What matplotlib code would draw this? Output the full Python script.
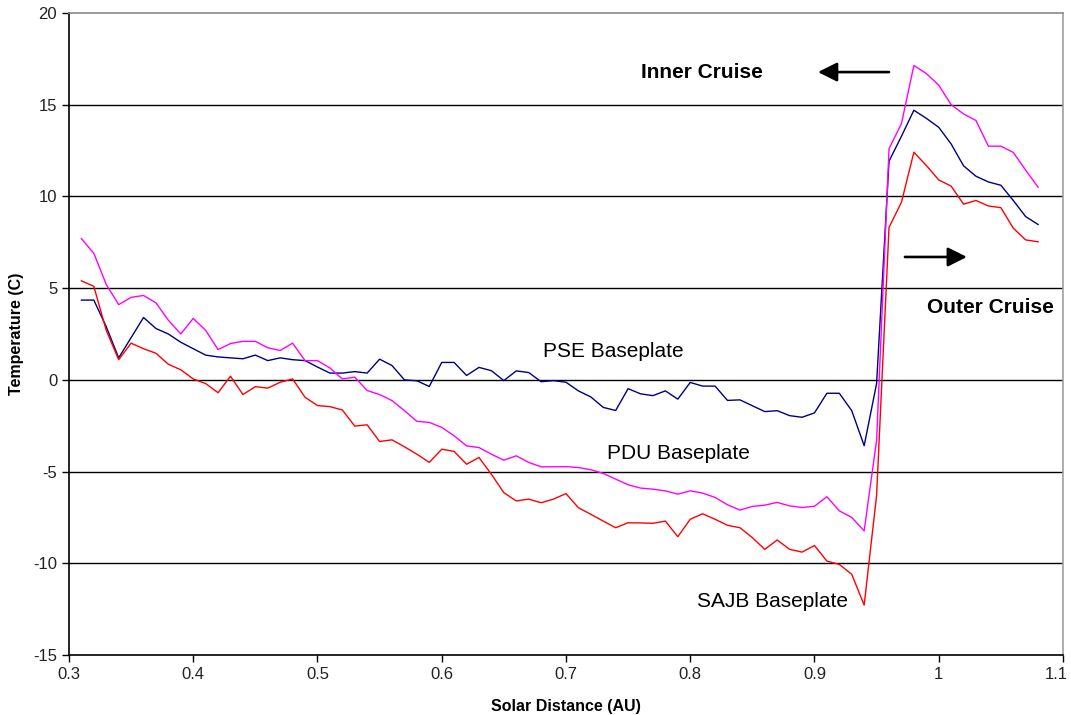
import matplotlib
matplotlib.use("Agg")
import matplotlib.pyplot as plt
from matplotlib.transforms import ScaledTranslation

# solar distance (AU), one reading every 0.01 AU
distance = [0.31, 0.32, 0.33, 0.34, 0.35, 0.36, 0.37, 0.38, 0.39, 0.40,
            0.41, 0.42, 0.43, 0.44, 0.45, 0.46, 0.47, 0.48, 0.49, 0.50,
            0.51, 0.52, 0.53, 0.54, 0.55, 0.56, 0.57, 0.58, 0.59, 0.60,
            0.61, 0.62, 0.63, 0.64, 0.65, 0.66, 0.67, 0.68, 0.69, 0.70,
            0.71, 0.72, 0.73, 0.74, 0.75, 0.76, 0.77, 0.78, 0.79, 0.80,
            0.81, 0.82, 0.83, 0.84, 0.85, 0.86, 0.87, 0.88, 0.89, 0.90,
            0.91, 0.92, 0.93, 0.94, 0.95, 0.96, 0.97, 0.98, 0.99, 1.00,
            1.01, 1.02, 1.03, 1.04, 1.05, 1.06, 1.07, 1.08]

# temperatures (C)
pse = [4.35, 4.35, 2.9, 1.2, 2.3, 3.4, 2.8, 2.5, 2.05, 1.7,
       1.35, 1.25, 1.2, 1.15, 1.35, 1.05, 1.2, 1.1, 1.05, 0.7,
       0.37, 0.37, 0.45, 0.37, 1.13, 0.78, 0.0, -0.05, -0.36, 0.95,
       0.95, 0.24, 0.68, 0.5, -0.04, 0.49, 0.4, -0.1, -0.04, -0.13,
       -0.6, -0.93, -1.5, -1.67, -0.48, -0.76, -0.86, -0.6, -1.05, -0.14,
       -0.34, -0.34, -1.12, -1.09, -1.41, -1.73, -1.68, -1.95, -2.04, -1.8,
       -0.73, -0.73, -1.68, -3.59, -0.2, 11.92, 13.28, 14.7, 14.26, 13.77,
       12.86, 11.67, 11.1, 10.79, 10.61, 9.78, 8.9, 8.47]

pdu = [7.7, 6.9, 5.2, 4.1, 4.5, 4.6, 4.2, 3.25, 2.5, 3.35,
       2.7, 1.65, 1.98, 2.1, 2.1, 1.75, 1.6, 2.0, 1.05, 1.05,
       0.65, 0.05, 0.15, -0.58, -0.8, -1.13, -1.68, -2.26, -2.32, -2.59,
       -3.05, -3.6, -3.69, -4.05, -4.38, -4.14, -4.5, -4.74, -4.74, -4.73,
       -4.78, -4.9, -5.1, -5.41, -5.72, -5.9, -5.96, -6.05, -6.23, -6.05,
       -6.17, -6.41, -6.81, -7.1, -6.9, -6.83, -6.68, -6.87, -6.96, -6.89,
       -6.37, -7.14, -7.5, -8.23, -3.3, 12.6, 13.97, 17.14, 16.7, 16.07,
       15.0, 14.5, 14.14, 12.74, 12.74, 12.4, 11.43, 10.5]

sajb = [5.4, 5.1, 2.7, 1.1, 2.0, 1.7, 1.45, 0.85, 0.55, 0.05,
        -0.2, -0.7, 0.2, -0.8, -0.37, -0.45, -0.13, 0.05, -0.95, -1.4,
        -1.46, -1.64, -2.52, -2.45, -3.36, -3.27, -3.65, -4.05, -4.5, -3.78,
        -3.9, -4.6, -4.23, -5.15, -6.15, -6.6, -6.5, -6.7, -6.5, -6.2,
        -6.97, -7.33, -7.7, -8.06, -7.79, -7.8, -7.82, -7.7, -8.55, -7.6,
        -7.3, -7.6, -7.93, -8.06, -8.6, -9.24, -8.73, -9.24, -9.39, -9.03,
        -9.88, -10.06, -10.6, -12.28, -6.3, 8.31, 9.68, 12.41, 11.69, 10.9,
        10.56, 9.58, 9.78, 9.48, 9.39, 8.27, 7.63, 7.53]

xticks = [0.3, 0.4, 0.5, 0.6, 0.7, 0.8, 0.9, 1.0, 1.1]
xtick_labels = ["0.3", "0.4", "0.5", "0.6", "0.7", "0.8", "0.9", "1", "1.1"]
yticks = [-15, -10, -5, 0, 5, 10, 15, 20]

plt.rcParams['font.family'] = ['Liberation Sans', 'DejaVu Sans']
plt.rcParams['axes.unicode_minus'] = False

fig = plt.figure(figsize=(10.71, 7.15), dpi=100)
ax = fig.add_axes([0.0644, 0.0839, 0.9281, 0.8979])

ax.plot(distance, pse, color='#000080', lw=1.0, zorder=3)
ax.plot(distance, pdu, color='#ff00ff', lw=1.0, zorder=3)
ax.plot(distance, sajb, color='#ff0000', lw=1.0, zorder=3)

ax.set_xlim(0.3, 1.1)
ax.set_ylim(-15, 20)
ax.set_xticks(xticks)
ax.set_xticklabels(xtick_labels)
ax.set_yticks(yticks)
ax.tick_params(direction='out', length=5, width=1, labelsize=12, labelcolor='#222222')

# last x label sits at the right edge of the figure, nudge it left a bit
last = ax.get_xticklabels()[-1]
last.set_transform(last.get_transform() + ScaledTranslation(-5 / 72, 0, fig.dpi_scale_trans))

# horizontal gridlines, the one at the top is the gray border
ax.yaxis.grid(True, color='black', lw=1.0)
ax.set_axisbelow(True)
ax.get_ygridlines()[-1].set_visible(False)
ax.get_ygridlines()[0].set_visible(False)

ax.spines['left'].set_color('black')
ax.spines['bottom'].set_color('black')
ax.spines['top'].set_color('#8a8a8a')
ax.spines['right'].set_color('#a0a0a0')
for s in ax.spines.values():
    s.set_linewidth(1.2)

ax.set_xlabel('Solar Distance (AU)', fontsize=11.5, fontweight='bold')
ax.set_ylabel('Temperature (C)', fontsize=11.5, fontweight='bold')
ax.xaxis.set_label_coords(0.5, -0.068)
ax.yaxis.set_label_coords(-0.0453, 0.5)

# series labels
ax.text(0.6815, 1.52, 'PSE Baseplate', fontsize=15, va='center', ha='left')
ax.text(0.733, -4.0, 'PDU Baseplate', fontsize=15, va='center', ha='left')
ax.text(0.8054, -12.06, 'SAJB Baseplate', fontsize=15, va='center', ha='left')

# cruise phase annotations
ax.text(0.7604, 16.78, 'Inner Cruise', fontsize=15, fontweight='bold', va='center', ha='left')
ax.text(0.9905, 3.97, 'Outer Cruise', fontsize=15, fontweight='bold', va='center', ha='left')
ax.annotate('', xy=(0.9028, 16.78), xytext=(0.96, 16.78),
            arrowprops=dict(arrowstyle='-|>', color='black', lw=1.9,
                            mutation_scale=29, shrinkA=0, shrinkB=0))
ax.annotate('', xy=(1.0227, 6.70), xytext=(0.9728, 6.70),
            arrowprops=dict(arrowstyle='-|>', color='black', lw=1.9,
                            mutation_scale=29, shrinkA=0, shrinkB=0))

fig.savefig('out.png', dpi=100)
